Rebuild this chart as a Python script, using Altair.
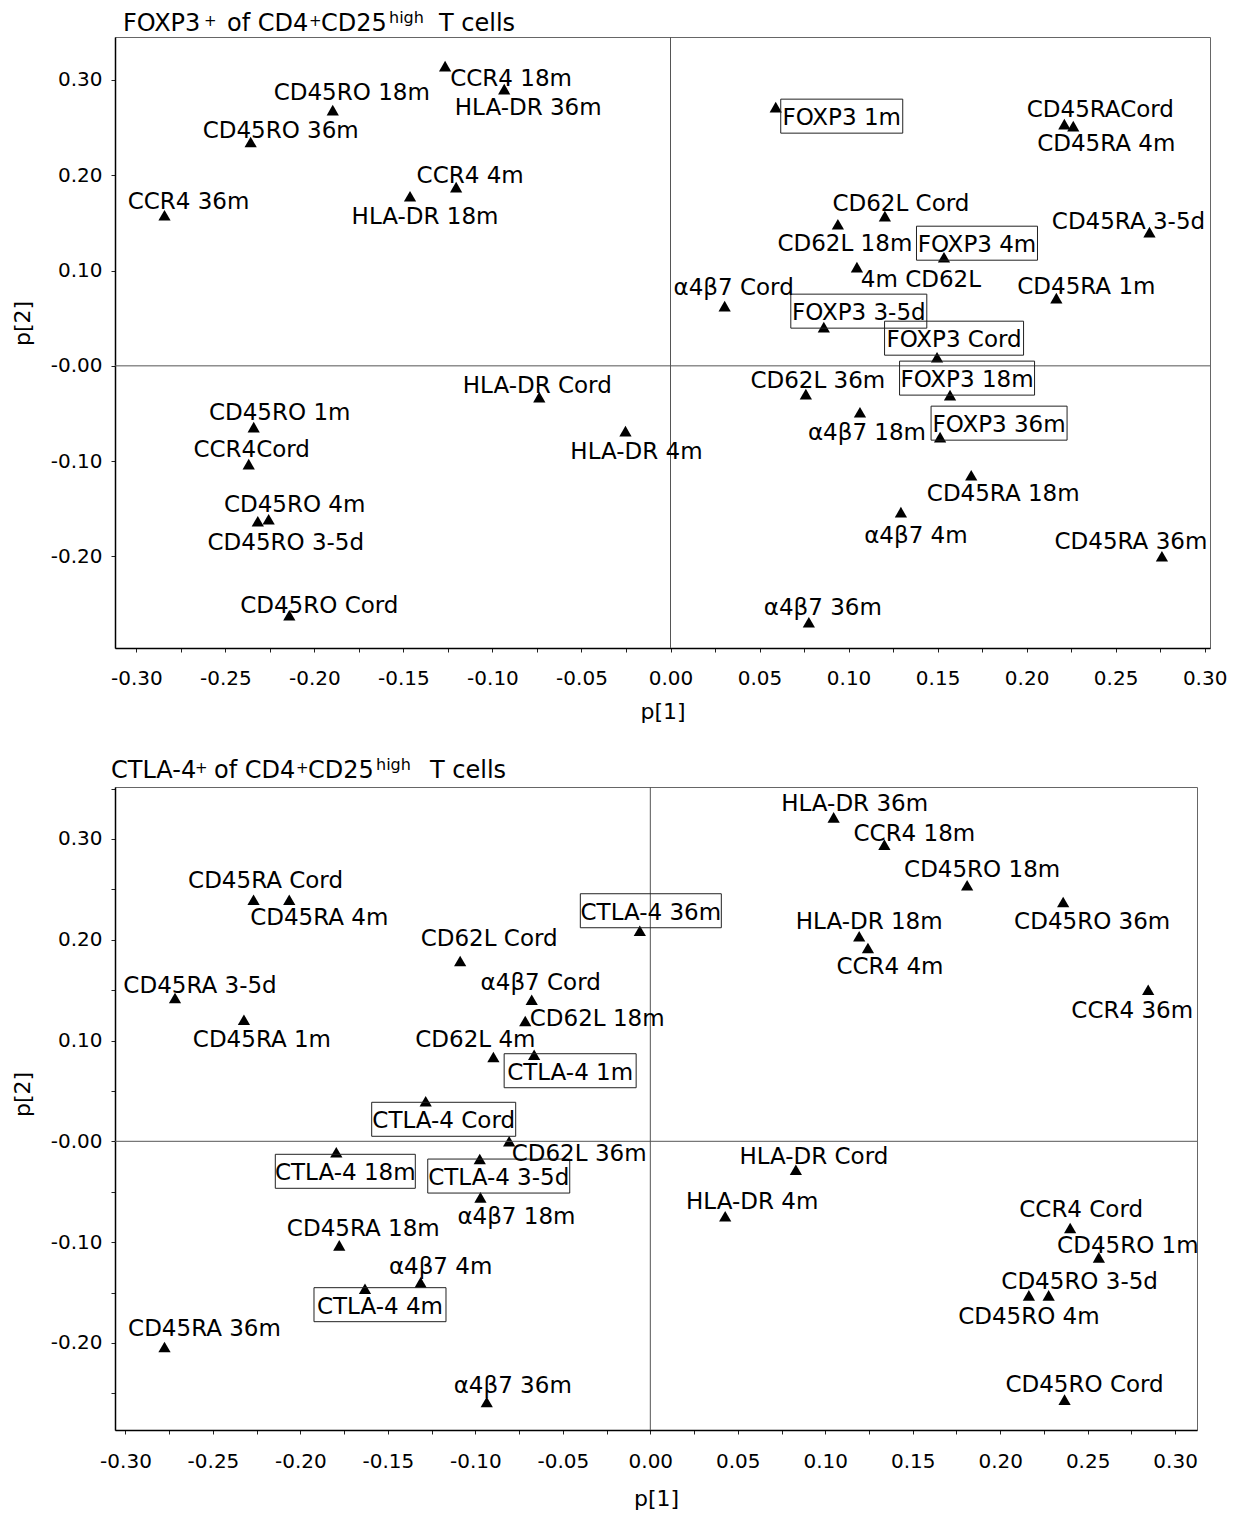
import altair as alt
import pandas as pd

FONT = "DejaVu Sans"

# ---------------- Panel A: FOXP3+ of CD4+CD25high T cells ----------------
a_labels = ["CCR4 18m", "HLA-DR 36m", "CD45RO 18m", "CD45RO 36m", "CCR4 36m", "CCR4 4m",
            "HLA-DR 18m", "FOXP3 1m", "CD45RACord", "CD45RA 4m", "CD62L Cord", "CD62L 18m",
            "FOXP3 4m", "CD45RA 3-5d", "4m CD62L", "CD45RA 1m", "α4β7 Cord", "FOXP3 3-5d",
            "FOXP3 Cord", "FOXP3 18m", "CD62L 36m", "α4β7 18m", "FOXP3 36m", "CD45RA 18m",
            "α4β7 4m", "CD45RA 36m", "α4β7 36m", "HLA-DR Cord", "HLA-DR 4m", "CD45RO 1m",
            "CCR4Cord", "CD45RO 4m", "CD45RO 3-5d", "CD45RO Cord"]
a_p1 = [-0.1266, -0.0934, -0.1897, -0.2358, -0.2842, -0.1204,
        -0.1463, 0.0591, 0.2212, 0.2262, 0.1204, 0.0940,
        0.1536, 0.2690, 0.1047, 0.2167, 0.0304, 0.0861,
        0.1497, 0.1570, 0.0760, 0.1064, 0.1514, 0.1689,
        0.1294, 0.2760, 0.0777, -0.0737, -0.0253, -0.2341,
        -0.2369, -0.2257, -0.2318, -0.2141]
a_p2 = [0.3145, 0.2903, 0.2683, 0.2348, 0.1580, 0.1875,
        0.1780, 0.2714, 0.2536, 0.2515, 0.1571, 0.1486,
        0.1140, 0.1403, 0.1036, 0.0711, 0.0627, 0.0406,
        0.0091, -0.0307, -0.0297, -0.0486, -0.0748, -0.1147,
        -0.1535, -0.1997, -0.2690, -0.0328, -0.0685, -0.0643,
        -0.1031, -0.1609, -0.1630, -0.2616]

# ---------------- Panel B: CTLA-4+ of CD4+CD25high T cells ----------------
b_labels = ["CD45RA Cord", "CD45RA 4m", "CD62L Cord", "CD45RA 3-5d", "CD45RA 1m", "α4β7 Cord",
            "CD62L 18m", "CD62L 4m", "CTLA-4 1m", "CTLA-4 36m", "HLA-DR 36m", "CCR4 18m",
            "CD45RO 18m", "CD45RO 36m", "HLA-DR 18m", "CCR4 4m", "CCR4 36m", "CTLA-4 Cord",
            "CD62L 36m", "CTLA-4 18m", "CTLA-4 3-5d", "α4β7 18m", "CD45RA 18m", "α4β7 4m",
            "CTLA-4 4m", "CD45RA 36m", "α4β7 36m", "HLA-DR Cord", "HLA-DR 4m", "CCR4 Cord",
            "CD45RO 1m", "CD45RO 3-5d", "CD45RO 4m", "CD45RO Cord"]
b_p1 = [-0.2268, -0.2064, -0.1087, -0.2717, -0.2323, -0.0678,
        -0.0715, -0.0897, -0.0664, -0.0060, 0.1048, 0.1338,
        0.1811, 0.2360, 0.1194, 0.1244, 0.2846, -0.1284,
        -0.0807, -0.1795, -0.0975, -0.0971, -0.1778, -0.1313,
        -0.1631, -0.2777, -0.0935, 0.0832, 0.0428, 0.2400,
        0.2564, 0.2277, 0.2164, 0.2368]
b_p2 = [0.2397, 0.2397, 0.1789, 0.1422, 0.1206, 0.1405,
        0.1193, 0.0836, 0.0859, 0.2089, 0.3214, 0.2943,
        0.2540, 0.2374, 0.2034, 0.1918, 0.1504, 0.0397,
        0.0000, -0.0109, -0.0176, -0.0556, -0.1032, -0.1399,
        -0.1462, -0.2041, -0.2586, -0.0282, -0.0744, -0.0860,
        -0.1151, -0.1528, -0.1528, -0.2563]

# ---------------- layout: label offsets (px) from marker, box widths ----------------
a_dx = [66, 24, 19, 30, 24, 14, 15, 66, 36, 33, 16, 7, 33, -21, 64, 30, 9, 35,
        17, 17, 12, 7, 59, 32, 15, -31, 14, -2, 11, 26, 3, 26, 28, 30]
a_dy = [12, 18, -18, -12, -14, -12, 20, 10, -15, 17, -13, 19, -13, -11, 12, -12, -19, -15,
        -18, -16, -14, 20, -13, 18, 23, -15, -15, -12, 20, -15, -15, -15, 21, -10]
a_box = {"FOXP3 1m": 122, "FOXP3 4m": 121, "FOXP3 3-5d": 136, "FOXP3 Cord": 139,
         "FOXP3 18m": 135, "FOXP3 36m": 136}

b_dx = [12, 30, 29, 25, 18, 9, 72, -18, 36, 11, 21, 30, 15, 29, 10, 22, -16, 18,
        70, 9, 19, 36, 24, 20, 15, 40, 26, 18, 27, 11, 29, 31, 0, 20]
b_dy = [-20, 17, -23, -13, 19, -18, -3, -18, 17, -19, -14, -12, -16, 19, -15, 18, 20, 19,
        12, 20, 18, 19, -17, -16, 17, -19, -17, -14, -15, -19, -12, -14, 21, -16]
b_box = {"CTLA-4 1m": 132, "CTLA-4 36m": 141, "CTLA-4 Cord": 144, "CTLA-4 18m": 140,
         "CTLA-4 3-5d": 142, "CTLA-4 4m": 132}

BOX_H = 34

a_title = [("FOXP3", 8, "main"), ("+", 89, "sup"), ("of CD4", 112, "main"), ("+", 194, "sup"),
           ("CD25", 206, "main"), ("high", 274, "high"), ("T cells", 324, "main")]
b_title = [("CTLA-4", -4, "main"), ("+", 80, "sup"), ("of CD4", 99, "main"), ("+", 181, "sup"),
           ("CD25", 193, "main"), ("high", 261, "high"), ("T cells", 315, "main")]

xticks = [round(-0.30 + 0.025 * i, 3) for i in range(25)]
a_yticks = [round(-0.2 + 0.1 * i, 2) for i in range(6)]
b_yticks = [round(-0.25 + 0.05 * i, 2) for i in range(13)]

XLAB = ("abs(round(datum.value*1000)) % 50 == 0 ? "
        "(datum.value < -0.0001 ? '-' : '') + format(abs(datum.value), '.2f') : ''")
YLAB = ("abs(round(datum.value*1000)) % 100 == 0 ? "
        "(datum.value < 0.0001 ? '-' : '') + format(abs(datum.value), '.2f') : ''")


def make_df(labels, p1, p2, dx, dy, boxes, xdom, ydom, w, h):
    kx = w / (xdom[1] - xdom[0])
    ky = h / (ydom[1] - ydom[0])
    paths, lx, ly = [], [], []
    for lab, x, y, ddx, ddy in zip(labels, p1, p2, dx, dy):
        lx.append(x + ddx / kx)
        ly.append(y - (ddy + 1) / ky)
        if lab in boxes:
            bw = boxes[lab]
            paths.append(f"M{ddx - bw / 2:.1f},{ddy - BOX_H / 2 - 1:.1f}h{bw}v{BOX_H}h{-bw}Z")
        else:
            paths.append("")
    return pd.DataFrame({"label": labels, "p1": p1, "p2": p2, "lx": lx, "ly": ly,
                         "path": paths})


def panel(df, xdom, ydom, w, h, yticks, title, tbase, xtitle_y, xlabpad, ytitle_y):
    xs = alt.Scale(domain=xdom, nice=False, zero=False)
    ys = alt.Scale(domain=ydom, nice=False, zero=False)
    xenc = alt.X("p1:Q", scale=xs,
                 axis=alt.Axis(values=xticks, labelExpr=XLAB, title="p[1]", titleY=xtitle_y,
                               titleBaseline="middle", labelPadding=xlabpad, tickSize=4,
                               labelFlush=False, labelOverlap=False, grid=False))
    yenc = alt.Y("p2:Q", scale=ys,
                 axis=alt.Axis(values=yticks, labelExpr=YLAB, title="p[2]", titleX=-93,
                               titleY=ytitle_y, titleBaseline="middle", titleAlign="center",
                               labelPadding=9, tickSize=4, labelFlush=False,
                               labelOverlap=False, grid=False))
    base = alt.Chart(df)
    vline = alt.Chart(pd.DataFrame({"p1": [0.0]})).mark_rule(color="#555", strokeWidth=1).encode(
        x=alt.X("p1:Q", scale=xs))
    hline = alt.Chart(pd.DataFrame({"p2": [0.0]})).mark_rule(color="#555", strokeWidth=1).encode(
        y=alt.Y("p2:Q", scale=ys))
    tri = base.mark_point(shape="triangle-up", filled=True, size=150, color="black",
                          opacity=1).encode(x=xenc, y=yenc)
    boxes = base.transform_filter("datum.path != ''").mark_point(
        filled=False, size=4, strokeWidth=1, color="#222", opacity=1).encode(
        x=xenc, y=yenc, shape=alt.Shape("path:N", scale=None))
    txt = base.mark_text(font=FONT, fontSize=23, align="center", baseline="middle",
                         color="black").encode(
        x=alt.X("lx:Q", scale=xs), y=alt.Y("ly:Q", scale=ys), text="label:N")
    tl = []
    one = pd.DataFrame({"a": [0]})
    for t, px, kind in title:
        if kind == "main":
            fs, yy = 24, tbase
        elif kind == "sup":
            fs, yy = 15, tbase - 5
        else:
            fs, yy = 16, tbase - 8
        tl.append(alt.Chart(one).mark_text(font=FONT, fontSize=fs, align="left",
                                           baseline="alphabetic", color="black").encode(
            x=alt.value(px), y=alt.value(yy), text=alt.value(t)))
    return alt.layer(tri, vline, hline, boxes, txt, *tl).properties(width=w, height=h)


A_X, A_Y, A_W, A_H = [-0.312, 0.303], [-0.296, 0.345], 1095, 611
B_X, B_Y, B_W, B_H = [-0.306, 0.3125], [-0.2864, 0.3515], 1082, 643

dfa = make_df(a_labels, a_p1, a_p2, a_dx, a_dy, a_box, A_X, A_Y, A_W, A_H)
dfb = make_df(b_labels, b_p1, b_p2, b_dx, b_dy, b_box, B_X, B_Y, B_W, B_H)

pa = panel(dfa, A_X, A_Y, A_W, A_H, a_yticks, a_title, -6, 63, 16, 286)
pb = panel(dfb, B_X, B_Y, B_W, B_H, b_yticks, b_title, -9, 68, 17, 307)

chart = alt.vconcat(pa, pb, spacing=33).properties(
    padding={"left": 2, "top": 1, "right": 0, "bottom": 0}
).configure_axis(
    labelFont=FONT, titleFont=FONT, labelFontSize=20, titleFontSize=22,
    titleFontWeight="normal", labelColor="black", titleColor="black",
    domainColor="black", domainWidth=1.5, tickColor="#222", tickWidth=1
).configure_view(stroke="#666", strokeWidth=1)

chart.save("out.html", embed_options={"renderer": "svg", "actions": False})
